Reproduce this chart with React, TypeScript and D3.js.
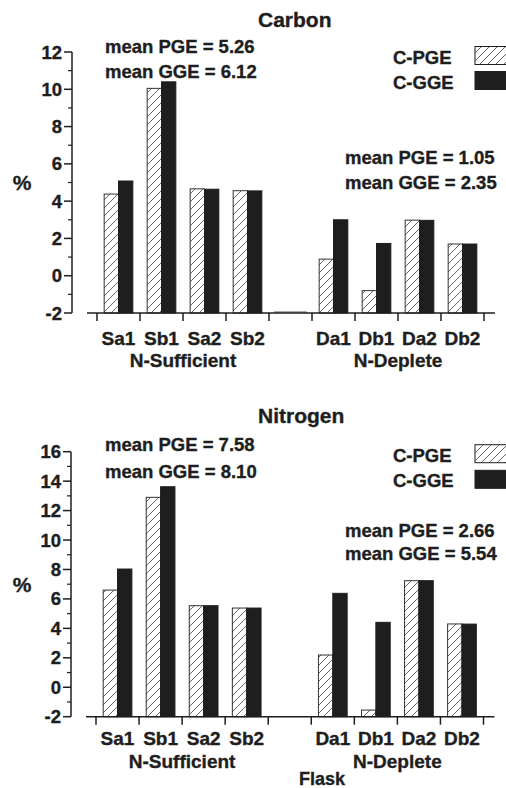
import React from "react";
import * as d3 from "d3";

const categories = ["Sa1", "Sb1", "Sa2", "Sb2", "", "Da1", "Db1", "Da2", "Db2"];
const groups = [
  { label: "N-Sufficient", from: "Sa1", to: "Sb2" },
  { label: "N-Deplete", from: "Da1", to: "Db2" },
];
const seriesNames = ["C-PGE", "C-GGE"];

const carbonPGE = [4.38, 10.05, 4.66, 4.56, null, 0.89, -0.8, 2.98, 1.7];
const carbonGGE = [5.08, 10.4, 4.64, 4.55, null, 3.0, 1.73, 2.97, 1.7];
const nitrogenPGE = [6.6, 12.9, 5.54, 5.38, null, 2.19, -1.55, 7.24, 4.3];
const nitrogenGGE = [8.03, 13.62, 5.54, 5.38, null, 6.38, 4.41, 7.24, 4.29];

const carbonTicks = [-2, 0, 2, 4, 6, 8, 10, 12];
const nitrogenTicks = [-2, 0, 2, 4, 6, 8, 10, 12, 14, 16];

const carbonMeansLeft = ["mean PGE = 5.26", "mean GGE = 6.12"];
const carbonMeansRight = ["mean PGE = 1.05", "mean GGE = 2.35"];
const nitrogenMeansLeft = ["mean PGE = 7.58", "mean GGE = 8.10"];
const nitrogenMeansRight = ["mean PGE = 2.66", "mean GGE = 5.54"];

const FONT = "'Liberation Sans', Arial, Helvetica, sans-serif";
const INK = "#1e1e1e";

type PanelProps = {
  title: string;
  pge: (number | null)[];
  gge: (number | null)[];
  ticks: number[];
  yTop: number;
  yBottom: number;
  xLeft: number;
  xRight: number;
  axisX: number;
  titleY: number;
  meansLeft: string[];
  meansLeftY: number[];
  meansRight: string[];
  meansRightY: number[];
  legendY: number[];
  pctY: number;
  catY: number;
  groupY: number;
  showGap: boolean;
};

function Panel(p: PanelProps) {
  const y = d3
    .scaleLinear()
    .domain([d3.min(p.ticks)!, d3.max(p.ticks)!])
    .range([p.yBottom, p.yTop]);
  const x = d3.scaleBand<string>().domain(categories.map((c, i) => c || "gap" + i)).range([p.xLeft, p.xRight]).padding(0);
  const keys = x.domain();
  const bw = x.bandwidth();
  const barW = bw / 3;
  const base = y.domain()[0];
  const minorTicks = d3.range(y.domain()[0] + 1, y.domain()[1], 2);
  const boundaries = keys.map((k) => x(k)!).concat([p.xRight]);
  const textStyle = { fontFamily: FONT, fontWeight: 700, fill: INK, stroke: INK, strokeWidth: 0.35 } as const;

  return (
    <g>
      <text x={258} y={p.titleY} fontSize={21} {...textStyle}>
        {p.title}
      </text>
      {/* bars */}
      {keys.map((k, i) => {
        const cx = x(k)! + bw / 2;
        const a = p.pge[i];
        const b = p.gge[i];
        return (
          <g key={k}>
            {a !== null && (
              <rect
                x={cx - barW}
                y={y(a)}
                width={barW}
                height={y(base) - y(a)}
                fill="url(#hatch)"
                stroke="#333"
                strokeWidth={1}
              />
            )}
            {b !== null && (
              <rect x={cx} y={y(b)} width={barW} height={y(base) - y(b)} fill={INK} stroke={INK} strokeWidth={1} />
            )}
            {a === null && p.showGap && (
              <line x1={cx - barW - 2} x2={cx + barW + 2} y1={y(base) - 1} y2={y(base) - 1} stroke="#555" strokeWidth={1.2} />
            )}
          </g>
        );
      })}
      {/* y axis */}
      <line x1={p.axisX} x2={p.axisX} y1={y.range()[1]} y2={y.range()[0]} stroke={INK} strokeWidth={1.5} />
      {p.ticks.map((t) => (
        <g key={"t" + t}>
          <line x1={p.axisX - 8} x2={p.axisX} y1={y(t)} y2={y(t)} stroke={INK} strokeWidth={1.5} />
          <text x={p.axisX - 10} y={y(t) + 6.5} textAnchor="end" fontSize={18.5} {...textStyle}>
            {t}
          </text>
        </g>
      ))}
      {minorTicks.map((t) => (
        <line key={"m" + t} x1={p.axisX - 4} x2={p.axisX} y1={y(t)} y2={y(t)} stroke={INK} strokeWidth={1.2} />
      ))}
      {/* x axis */}
      <line x1={p.xLeft - 10} x2={p.xRight + 11} y1={y(base)} y2={y(base)} stroke={INK} strokeWidth={1.5} />
      {boundaries.map((bx, i) => (
        <line key={"b" + i} x1={bx} x2={bx} y1={y(base)} y2={y(base) + 8} stroke={INK} strokeWidth={1.5} />
      ))}
      {keys.map((k, i) =>
        categories[i] ? (
          <text key={"c" + k} x={x(k)! + bw / 2} y={p.catY} textAnchor="middle" fontSize={19} {...textStyle}>
            {categories[i]}
          </text>
        ) : null
      )}
      {groups.map((g) => {
        const cx = (x(g.from)! + x(g.to)! + bw) / 2;
        return (
          <text key={g.label} x={cx} y={p.groupY} textAnchor="middle" fontSize={19} {...textStyle}>
            {g.label}
          </text>
        );
      })}
      {/* % label */}
      <text x={22} y={p.pctY} textAnchor="middle" fontSize={21} {...textStyle}>
        %
      </text>
      {/* means */}
      {p.meansLeft.map((m, i) => (
        <text key={"ml" + i} x={105} y={p.meansLeftY[i]} fontSize={18.5} {...textStyle}>
          {m}
        </text>
      ))}
      {p.meansRight.map((m, i) => (
        <text key={"mr" + i} x={345} y={p.meansRightY[i]} fontSize={18.5} {...textStyle}>
          {m}
        </text>
      ))}
      {/* legend */}
      {seriesNames.map((s, i) => (
        <g key={s}>
          <text x={393} y={p.legendY[i]} fontSize={18.5} {...textStyle}>
            {s}
          </text>
          <rect
            x={475}
            y={p.legendY[i] - 17}
            width={40}
            height={18}
            fill={i === 0 ? "url(#hatch)" : INK}
            stroke={INK}
            strokeWidth={1}
          />
        </g>
      ))}
    </g>
  );
}

export default function App() {
  return (
    <svg
      width={506}
      height={788}
      viewBox="0 0 506 788"
      style={{ position: "absolute", left: 0, top: 0, background: "#fff" }}
    >
      <defs>
        <pattern id="hatch" patternUnits="userSpaceOnUse" width={8} height={8}>
          <rect width={8} height={8} fill="#fff" />
          <path d="M-1,1 l2,-2 M0,8 l8,-8 M7,9 l2,-2" stroke="#555" strokeWidth={0.9} />
        </pattern>
      </defs>
      <rect width={506} height={788} fill="#fff" />
      <Panel
        title="Carbon"
        pge={carbonPGE}
        gge={carbonGGE}
        ticks={carbonTicks}
        yTop={52}
        yBottom={313}
        xLeft={97}
        xRight={484}
        axisX={72}
        titleY={27}
        meansLeft={carbonMeansLeft}
        meansLeftY={[52.5, 77.5]}
        meansRight={carbonMeansRight}
        meansRightY={[163.5, 188.5]}
        legendY={[63.5, 88.5]}
        pctY={190}
        catY={345}
        groupY={366.5}
        showGap={true}
      />
      <Panel
        title="Nitrogen"
        pge={nitrogenPGE}
        gge={nitrogenGGE}
        ticks={nitrogenTicks}
        yTop={451.7}
        yBottom={716.7}
        xLeft={96}
        xRight={483.5}
        axisX={71}
        titleY={423}
        meansLeft={nitrogenMeansLeft}
        meansLeftY={[450.7, 478.3]}
        meansRight={nitrogenMeansRight}
        meansRightY={[536.7, 560]}
        legendY={[461.7, 487.3]}
        pctY={592}
        catY={745}
        groupY={768.3}
        showGap={false}
      />
      <text x={322} y={785} textAnchor="middle" fontSize={18} fontFamily={FONT} fontWeight={700} fill={INK} stroke={INK} strokeWidth={0.35}>
        Flask
      </text>
    </svg>
  );
}
